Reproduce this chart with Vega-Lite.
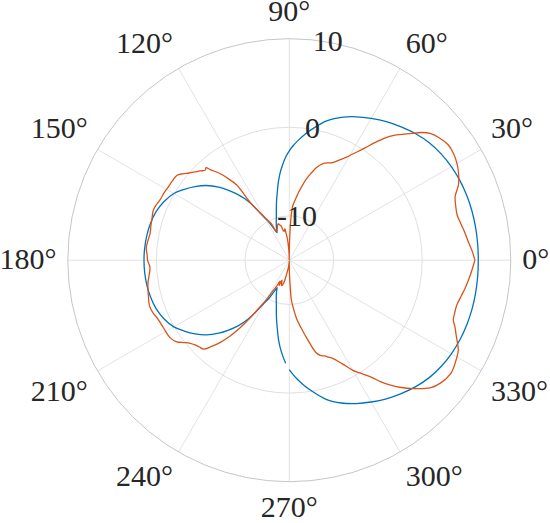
{
  "$schema": "https://vega.github.io/schema/vega-lite/v6.json",
  "width": 443,
  "height": 443,
  "autosize": "none",
  "padding": {"left": 67.8, "top": 38.7, "right": 39.2, "bottom": 41.3},
  "background": "white",
  "config": {"view": {"stroke": null}, "font": "Liberation Serif, Times New Roman, DejaVu Serif, serif", "text": {"font": "Liberation Serif, Times New Roman, DejaVu Serif, serif"}},
  "datasets": {
    "rings": [{"db": -10}, {"db": 0}],
    "outer": [{"db": 10}],
    "spokes": [
      {"a": 0, "db": -15}, {"a": 0, "db": 10}, {"a": 30, "db": -15}, {"a": 30, "db": 10}, {"a": 60, "db": -15}, {"a": 60, "db": 10}, {"a": 90, "db": -15}, {"a": 90, "db": 10}, {"a": 120, "db": -15}, {"a": 120, "db": 10}, {"a": 150, "db": -15}, {"a": 150, "db": 10},
      {"a": 180, "db": -15}, {"a": 180, "db": 10}, {"a": 210, "db": -15}, {"a": 210, "db": 10}, {"a": 240, "db": -15}, {"a": 240, "db": 10}, {"a": 270, "db": -15}, {"a": 270, "db": 10}, {"a": 300, "db": -15}, {"a": 300, "db": 10}, {"a": 330, "db": -15}, {"a": 330, "db": 10}
    ],
    "thetaLabels": [{"a": 0, "t": "0°"}, {"a": 30, "t": "30°"}, {"a": 60, "t": "60°"}, {"a": 90, "t": "90°"}, {"a": 120, "t": "120°"}, {"a": 150, "t": "150°"}, {"a": 180, "t": "180°"}, {"a": 210, "t": "210°"}, {"a": 240, "t": "240°"}, {"a": 270, "t": "270°"}, {"a": 300, "t": "300°"}, {"a": 330, "t": "330°"}],
    "rLabels": [{"db": -10, "t": "-10"}, {"db": 0, "t": "0"}, {"db": 10, "t": "10"}],
    "blue": [
      {"a": -90, "db": -2.65}, {"a": -88, "db": -2.05}, {"a": -86, "db": -1.5}, {"a": -83, "db": -0.7}, {"a": -80, "db": 0.05}, {"a": -75, "db": 1.28}, {"a": -70, "db": 2.15}, {"a": -65, "db": 2.86}, {"a": -60, "db": 3.48}, {"a": -55, "db": 4.1}, {"a": -50, "db": 4.65}, {"a": -45, "db": 5.18}, {"a": -40, "db": 5.62}, {"a": -35, "db": 5.92}, {"a": -30, "db": 6.12}, {"a": -25, "db": 6.25}, {"a": -20, "db": 6.32}, {"a": -15, "db": 6.35}, {"a": -10, "db": 6.35}, {"a": -5, "db": 6.34},
      {"a": 0, "db": 6.33}, {"a": 5, "db": 6.34}, {"a": 10, "db": 6.35}, {"a": 15, "db": 6.35}, {"a": 20, "db": 6.32}, {"a": 25, "db": 6.25}, {"a": 30, "db": 6.12}, {"a": 35, "db": 5.92}, {"a": 40, "db": 5.62}, {"a": 45, "db": 5.18}, {"a": 50, "db": 4.65}, {"a": 55, "db": 4.1}, {"a": 60, "db": 3.48}, {"a": 65, "db": 2.86}, {"a": 70, "db": 2.15}, {"a": 75, "db": 1.28}, {"a": 80, "db": 0.05}, {"a": 83, "db": -0.7}, {"a": 86, "db": -1.5}, {"a": 88, "db": -2.05}, {"a": 90, "db": -2.65}, {"a": 92, "db": -3.35}, {"a": 94, "db": -4.2}, {"a": 96, "db": -5.1}, {"a": 98, "db": -6.1}, {"a": 100, "db": -7.2}, {"a": 102, "db": -8.1}, {"a": 104, "db": -8.95}, {"a": 106, "db": -9.7}, {"a": 108, "db": -10.25}, {"a": 110, "db": -10.7}, {"a": 112, "db": -11.15}, {"a": 113, "db": -11.4},
      {"a": 114, "db": -11.6}, {"a": 116, "db": -11.0}, {"a": 118, "db": -10.2}, {"a": 120, "db": -9.5}, {"a": 122, "db": -8.6}, {"a": 124, "db": -7.4}, {"a": 126, "db": -6.4}, {"a": 128, "db": -5.6}, {"a": 131, "db": -4.55}, {"a": 134, "db": -3.55}, {"a": 138, "db": -2.4}, {"a": 142, "db": -1.5}, {"a": 146, "db": -0.7}, {"a": 150, "db": 0.05}, {"a": 155, "db": 0.62}, {"a": 160, "db": 1.0}, {"a": 165, "db": 1.2}, {"a": 170, "db": 1.32}, {"a": 175, "db": 1.38}, {"a": 180, "db": 1.4},
      {"a": 185, "db": 1.38}, {"a": 190, "db": 1.32}, {"a": 195, "db": 1.2}, {"a": 200, "db": 1.0}, {"a": 205, "db": 0.62}, {"a": 210, "db": 0.05}, {"a": 214, "db": -0.7}, {"a": 218, "db": -1.5}, {"a": 222, "db": -2.4}, {"a": 226, "db": -3.55}, {"a": 229, "db": -4.55}, {"a": 232, "db": -5.6}, {"a": 234, "db": -6.4}, {"a": 236, "db": -7.4}, {"a": 238, "db": -8.6}, {"a": 240, "db": -9.5}, {"a": 242, "db": -10.2}, {"a": 244, "db": -11.0}, {"a": 246, "db": -11.6},
      {"a": 247, "db": -11.4}, {"a": 248, "db": -11.15}, {"a": 250, "db": -10.7}, {"a": 252, "db": -10.25}, {"a": 254, "db": -9.7}, {"a": 256, "db": -8.95}, {"a": 258, "db": -8.1}, {"a": 260, "db": -7.2}, {"a": 262, "db": -6.1}, {"a": 264, "db": -5.1}, {"a": 266, "db": -4.2}, {"a": 268, "db": -3.35}
    ],
    "orange": [
      {"a": 0, "db": 5.95}, {"a": 3, "db": 5.65}, {"a": 6, "db": 5.3}, {"a": 9, "db": 5.05}, {"a": 12, "db": 4.8}, {"a": 15, "db": 4.62}, {"a": 18, "db": 4.75}, {"a": 21, "db": 5.05}, {"a": 24, "db": 5.9}, {"a": 27, "db": 6.45}, {"a": 30, "db": 6.85}, {"a": 33, "db": 7.1}, {"a": 36, "db": 7.16}, {"a": 39, "db": 6.87}, {"a": 42, "db": 6.38}, {"a": 44, "db": 5.75}, {"a": 46, "db": 4.9}, {"a": 48, "db": 4.1}, {"a": 50, "db": 3.4}, {"a": 52, "db": 2.5}, {"a": 54, "db": 1.4}, {"a": 56, "db": 0.3}, {"a": 58, "db": -0.6}, {"a": 61, "db": -1.7}, {"a": 64, "db": -2.5}, {"a": 66, "db": -2.95}, {"a": 68, "db": -3.15}, {"a": 70, "db": -3.35}, {"a": 72, "db": -3.7}, {"a": 74, "db": -4.2}, {"a": 76, "db": -4.9}, {"a": 78, "db": -5.6}, {"a": 80, "db": -6.4}, {"a": 82, "db": -7.2}, {"a": 84, "db": -8.0}, {"a": 86, "db": -8.7}, {"a": 87, "db": -9.3}, {"a": 88, "db": -10.6}, {"a": 89, "db": -12.4}, {"a": 90, "db": -14.3}, {"a": 91, "db": -15}, {"a": 92, "db": -14.5}, {"a": 93, "db": -13.7}, {"a": 95, "db": -12.6}, {"a": 97, "db": -11.9}, {"a": 98, "db": -11.4}, {"a": 100, "db": -11.7}, {"a": 102, "db": -11.5}, {"a": 103, "db": -11.1}, {"a": 105, "db": -10.9}, {"a": 107, "db": -10.7}, {"a": 109, "db": -10.9}, {"a": 111, "db": -11.2}, {"a": 113, "db": -11.4}, {"a": 115, "db": -11.3}, {"a": 116, "db": -10.5}, {"a": 118, "db": -10.0}, {"a": 120, "db": -9.4}, {"a": 122, "db": -8.5}, {"a": 124, "db": -7.2}, {"a": 125, "db": -4.6}, {"a": 127, "db": -3.4}, {"a": 129, "db": -2.3}, {"a": 131, "db": -1.5}, {"a": 132, "db": -0.95}, {"a": 133, "db": -1.1}, {"a": 135, "db": -0.75}, {"a": 137, "db": -0.4}, {"a": 139, "db": 0.0}, {"a": 141, "db": 0.5}, {"a": 143, "db": 0.9}, {"a": 146, "db": 0.95}, {"a": 149, "db": 0.97}, {"a": 152, "db": 1.05}, {"a": 155, "db": 1.1}, {"a": 158, "db": 1.3}, {"a": 160, "db": 1.35}, {"a": 163, "db": 1.2}, {"a": 166, "db": 1.1}, {"a": 169, "db": 1.0}, {"a": 172, "db": 1.1}, {"a": 175, "db": 1.2}, {"a": 178, "db": 1.05},
      {"a": 180, "db": 1.0}, {"a": 183, "db": 0.75}, {"a": 186, "db": 0.9}, {"a": 189, "db": 1.15}, {"a": 192, "db": 1.3}, {"a": 195, "db": 1.45}, {"a": 198, "db": 1.6}, {"a": 201, "db": 1.5}, {"a": 204, "db": 1.25}, {"a": 207, "db": 1.15}, {"a": 210, "db": 1.1}, {"a": 213, "db": 1.05}, {"a": 216, "db": 0.7}, {"a": 218, "db": 0.1}, {"a": 220, "db": -0.4}, {"a": 222, "db": -0.7}, {"a": 224, "db": -0.9}, {"a": 226, "db": -1.05}, {"a": 228, "db": -1.9}, {"a": 230, "db": -2.9}, {"a": 232, "db": -4.1}, {"a": 234, "db": -5.6}, {"a": 236, "db": -7.3}, {"a": 238, "db": -8.8}, {"a": 240, "db": -10.0}, {"a": 242, "db": -11.1}, {"a": 244, "db": -11.7}, {"a": 246, "db": -12.4}, {"a": 248, "db": -11.9}, {"a": 250, "db": -12.6}, {"a": 253, "db": -12.0}, {"a": 256, "db": -12.3}, {"a": 259, "db": -13.4}, {"a": 262, "db": -14.0}, {"a": 265, "db": -14.6}, {"a": 268, "db": -14.9}, {"a": 270, "db": -14.5}, {"a": 271, "db": -13.2}, {"a": 272, "db": -12.0}, {"a": 273, "db": -10.5}, {"a": 275, "db": -9.5}, {"a": 277, "db": -8.4}, {"a": 280, "db": -7.2}, {"a": 283, "db": -5.8}, {"a": 286, "db": -4.2}, {"a": 288, "db": -3.7}, {"a": 290, "db": -3.5}, {"a": 292, "db": -3.2}, {"a": 294, "db": -2.85}, {"a": 297, "db": -1.9}, {"a": 300, "db": -0.65}, {"a": 302, "db": 0.0}, {"a": 305, "db": 1.1}, {"a": 307, "db": 2.2}, {"a": 309, "db": 3.15}, {"a": 311, "db": 4.0}, {"a": 314, "db": 5.15}, {"a": 318, "db": 6.5}, {"a": 321, "db": 7.0}, {"a": 325, "db": 7.26}, {"a": 329, "db": 6.95}, {"a": 332, "db": 6.6}, {"a": 334, "db": 6.1}, {"a": 336, "db": 5.6}, {"a": 338, "db": 5.17}, {"a": 340, "db": 4.7}, {"a": 342, "db": 4.6}, {"a": 345, "db": 4.57}, {"a": 348, "db": 4.8}, {"a": 351, "db": 5.1}, {"a": 355, "db": 5.47}, {"a": 360, "db": 5.95}
    ]
  },
  "layer": [
    {
      "data": {"name": "spokes"},
      "transform": [
        {"calculate": "(datum.db + 15) * cos(datum.a * PI / 180)", "as": "x"},
        {"calculate": "(datum.db + 15) * sin(datum.a * PI / 180)", "as": "y"}
      ],
      "mark": {"type": "line", "stroke": "#e3e3e3", "strokeWidth": 1},
      "encoding": {
        "x": {"field": "x", "type": "quantitative", "scale": {"domain": [-25, 25], "nice": false, "zero": false}, "axis": null},
        "y": {"field": "y", "type": "quantitative", "scale": {"domain": [-25, 25], "nice": false, "zero": false}, "axis": null},
        "detail": {"field": "a", "type": "nominal"},
        "order": {"field": "db", "type": "quantitative"}
      }
    },
    {
      "data": {"name": "rings"},
      "transform": [{"calculate": "datum.db + 15", "as": "r"}],
      "mark": {"type": "point", "shape": "circle", "filled": false, "stroke": "#e0e0e0", "strokeWidth": 1, "opacity": 1},
      "encoding": {
        "x": {"datum": 0, "type": "quantitative"},
        "y": {"datum": 0, "type": "quantitative"},
        "size": {"field": "r", "type": "quantitative", "scale": {"type": "pow", "exponent": 2, "domain": [0, 25], "range": [0, 196249], "nice": false}, "legend": null}
      }
    },
    {
      "data": {"name": "outer"},
      "transform": [{"calculate": "datum.db + 15", "as": "r"}],
      "mark": {"type": "point", "shape": "circle", "filled": false, "stroke": "#c6c6c6", "strokeWidth": 1, "opacity": 1},
      "encoding": {
        "x": {"datum": 0, "type": "quantitative"},
        "y": {"datum": 0, "type": "quantitative"},
        "size": {"field": "r", "type": "quantitative", "scale": {"type": "pow", "exponent": 2, "domain": [0, 25], "range": [0, 196249], "nice": false}, "legend": null}
      }
    },
    {
      "data": {"name": "blue"},
      "transform": [
        {"calculate": "(datum.db + 15) * cos(datum.a * PI / 180)", "as": "x"},
        {"calculate": "(datum.db + 15) * sin(datum.a * PI / 180)", "as": "y"}
      ],
      "mark": {"type": "line", "stroke": "#0072BD", "strokeWidth": 1.3, "interpolate": "catmull-rom"},
      "encoding": {
        "x": {"field": "x", "type": "quantitative"},
        "y": {"field": "y", "type": "quantitative"},
        "order": {"field": "a", "type": "quantitative"}
      }
    },
    {
      "data": {"name": "orange"},
      "transform": [
        {"calculate": "(datum.db + 15) * cos(datum.a * PI / 180)", "as": "x"},
        {"calculate": "(datum.db + 15) * sin(datum.a * PI / 180)", "as": "y"}
      ],
      "mark": {"type": "line", "stroke": "#D95319", "strokeWidth": 1.3, "interpolate": "catmull-rom"},
      "encoding": {
        "x": {"field": "x", "type": "quantitative"},
        "y": {"field": "y", "type": "quantitative"},
        "order": {"field": "a", "type": "quantitative"}
      }
    },
    {
      "data": {"name": "rLabels"},
      "transform": [
        {"calculate": "(datum.db + 15) * cos(80 * PI / 180)", "as": "x"},
        {"calculate": "(datum.db + 15) * sin(80 * PI / 180)", "as": "y"}
      ],
      "mark": {"type": "text", "font": "Liberation Serif, Times New Roman, DejaVu Serif, serif", "fontSize": 30, "fill": "#262626", "align": "center", "baseline": "middle"},
      "encoding": {"x": {"field": "x", "type": "quantitative"}, "y": {"field": "y", "type": "quantitative"}, "text": {"field": "t"}}
    },
    {
      "data": {"name": "thetaLabels"},
      "transform": [
        {"filter": "datum.a == 0"},
        {"calculate": "26.28 * cos(datum.a * PI / 180)", "as": "x"},
        {"calculate": "26.28 * sin(datum.a * PI / 180)", "as": "y"}
      ],
      "mark": {"type": "text", "font": "Liberation Serif, Times New Roman, DejaVu Serif, serif", "fontSize": 30, "fill": "#262626", "align": "left", "baseline": "middle"},
      "encoding": {"x": {"field": "x", "type": "quantitative"}, "y": {"field": "y", "type": "quantitative"}, "text": {"field": "t"}}
    },
    {
      "data": {"name": "thetaLabels"},
      "transform": [
        {"filter": "datum.a == 30 || datum.a == 60"},
        {"calculate": "26.28 * cos(datum.a * PI / 180)", "as": "x"},
        {"calculate": "26.28 * sin(datum.a * PI / 180)", "as": "y"}
      ],
      "mark": {"type": "text", "font": "Liberation Serif, Times New Roman, DejaVu Serif, serif", "fontSize": 30, "fill": "#262626", "align": "left", "baseline": "bottom"},
      "encoding": {"x": {"field": "x", "type": "quantitative"}, "y": {"field": "y", "type": "quantitative"}, "text": {"field": "t"}}
    },
    {
      "data": {"name": "thetaLabels"},
      "transform": [
        {"filter": "datum.a == 90"},
        {"calculate": "26.28 * cos(datum.a * PI / 180)", "as": "x"},
        {"calculate": "26.28 * sin(datum.a * PI / 180)", "as": "y"}
      ],
      "mark": {"type": "text", "font": "Liberation Serif, Times New Roman, DejaVu Serif, serif", "fontSize": 30, "fill": "#262626", "align": "center", "baseline": "bottom"},
      "encoding": {"x": {"field": "x", "type": "quantitative"}, "y": {"field": "y", "type": "quantitative"}, "text": {"field": "t"}}
    },
    {
      "data": {"name": "thetaLabels"},
      "transform": [
        {"filter": "datum.a == 120 || datum.a == 150"},
        {"calculate": "26.28 * cos(datum.a * PI / 180)", "as": "x"},
        {"calculate": "26.28 * sin(datum.a * PI / 180)", "as": "y"}
      ],
      "mark": {"type": "text", "font": "Liberation Serif, Times New Roman, DejaVu Serif, serif", "fontSize": 30, "fill": "#262626", "align": "right", "baseline": "bottom"},
      "encoding": {"x": {"field": "x", "type": "quantitative"}, "y": {"field": "y", "type": "quantitative"}, "text": {"field": "t"}}
    },
    {
      "data": {"name": "thetaLabels"},
      "transform": [
        {"filter": "datum.a == 180"},
        {"calculate": "26.28 * cos(datum.a * PI / 180)", "as": "x"},
        {"calculate": "26.28 * sin(datum.a * PI / 180)", "as": "y"}
      ],
      "mark": {"type": "text", "font": "Liberation Serif, Times New Roman, DejaVu Serif, serif", "fontSize": 30, "fill": "#262626", "align": "right", "baseline": "middle"},
      "encoding": {"x": {"field": "x", "type": "quantitative"}, "y": {"field": "y", "type": "quantitative"}, "text": {"field": "t"}}
    },
    {
      "data": {"name": "thetaLabels"},
      "transform": [
        {"filter": "datum.a == 210 || datum.a == 240"},
        {"calculate": "26.28 * cos(datum.a * PI / 180)", "as": "x"},
        {"calculate": "26.28 * sin(datum.a * PI / 180)", "as": "y"}
      ],
      "mark": {"type": "text", "font": "Liberation Serif, Times New Roman, DejaVu Serif, serif", "fontSize": 30, "fill": "#262626", "align": "right", "baseline": "top"},
      "encoding": {"x": {"field": "x", "type": "quantitative"}, "y": {"field": "y", "type": "quantitative"}, "text": {"field": "t"}}
    },
    {
      "data": {"name": "thetaLabels"},
      "transform": [
        {"filter": "datum.a == 270"},
        {"calculate": "26.28 * cos(datum.a * PI / 180)", "as": "x"},
        {"calculate": "26.28 * sin(datum.a * PI / 180)", "as": "y"}
      ],
      "mark": {"type": "text", "font": "Liberation Serif, Times New Roman, DejaVu Serif, serif", "fontSize": 30, "fill": "#262626", "align": "center", "baseline": "top"},
      "encoding": {"x": {"field": "x", "type": "quantitative"}, "y": {"field": "y", "type": "quantitative"}, "text": {"field": "t"}}
    },
    {
      "data": {"name": "thetaLabels"},
      "transform": [
        {"filter": "datum.a == 300 || datum.a == 330"},
        {"calculate": "26.28 * cos(datum.a * PI / 180)", "as": "x"},
        {"calculate": "26.28 * sin(datum.a * PI / 180)", "as": "y"}
      ],
      "mark": {"type": "text", "font": "Liberation Serif, Times New Roman, DejaVu Serif, serif", "fontSize": 30, "fill": "#262626", "align": "left", "baseline": "top"},
      "encoding": {"x": {"field": "x", "type": "quantitative"}, "y": {"field": "y", "type": "quantitative"}, "text": {"field": "t"}}
    }
  ]
}
